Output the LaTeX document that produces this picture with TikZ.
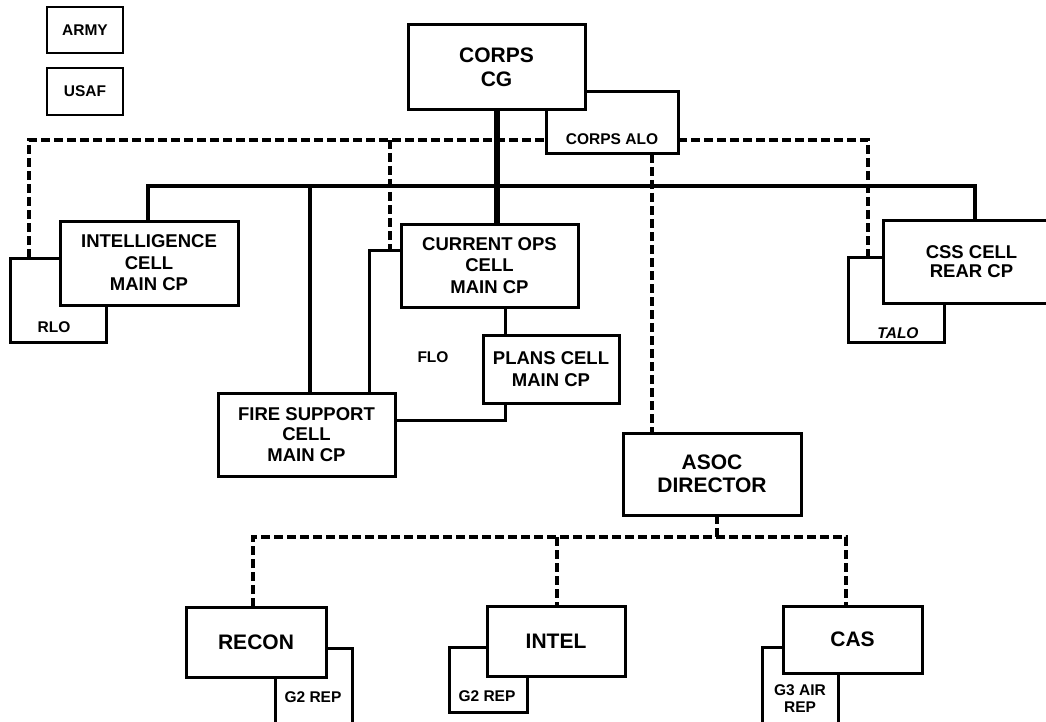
\documentclass[tikz,border=0pt]{standalone}
\usepackage{fontspec}
\setmainfont{Liberation Sans}
\begin{document}
\begin{tikzpicture}[x=1pt,y=-1pt,
  bx/.style={draw, line width=3pt, fill=white, inner sep=0pt, outer sep=0pt, align=center},
  bigf/.style={font=\bfseries\fontsize{21}{24}\selectfont},
  midf/.style={font=\bfseries\fontsize{18.5}{21.5}\selectfont},
  smf/.style={font=\bfseries\fontsize{15.5}{17}\selectfont, inner sep=0pt},
  sline/.style={line width=3.5pt},
  dline/.style={line width=4pt, dash pattern=on 9pt off 4pt}]
\useasboundingbox (0,0) rectangle (1046,722);
\clip (0,0) rectangle (1046,722);

% legend
\node[bx, line width=2.5pt, smf, minimum width=76pt, minimum height=46pt] (army) at (85,30) {ARMY};
\node[bx, line width=2.5pt, smf, minimum width=76pt, minimum height=47pt] (usaf) at (85,91.5) {USAF};

% boxes lying behind others
\node[bx, minimum width=132pt, minimum height=62pt] (alo) at (612,123) {};
\node[smf] (alot) at (612,139) {CORPS ALO};
\node[bx, minimum width=96pt, minimum height=84pt] (rlo) at (58,300) {};
\node[smf] (rlot) at (54,327) {RLO};
\node[bx, minimum width=136pt, minimum height=170pt] (flo) at (437,335) {};
\node[smf] (flot) at (433,357) {FLO};
\node[bx, minimum width=96pt, minimum height=85pt] (talo) at (896,299.5) {};
\node[smf, font=\bfseries\itshape\fontsize{15.5}{17}\selectfont] (talot) at (898,333) {TALO};
\node[bx, minimum width=77pt, minimum height=92pt] (gra) at (313.5,694) {};
\node[smf] (grat) at (313,697) {G2 REP};
\node[bx, minimum width=78pt, minimum height=65pt] (grb) at (488,679.5) {};
\node[smf] (grbt) at (487,696) {G2 REP};
\node[bx, minimum width=76pt, minimum height=93pt] (g3) at (800,693.5) {};
\node[smf, align=center] (g3t) at (800,699) {G3 AIR\\REP};

% coordinates for connectors
\coordinate (bl) at (148,186);
\coordinate (br) at (975,186);
\coordinate (fd) at (310,186);
\coordinate (cgx) at (497,186);
\coordinate (dl) at (29,140);
\coordinate (dm) at (390,140);
\coordinate (dr) at (868,140);
\coordinate (da) at (652,154);
\coordinate (ab) at (717,537);
\coordinate (el) at (253,537);
\coordinate (em) at (557,537);
\coordinate (er) at (846,537);

% front boxes (positions only first, drawn later) -- define via nodes after connectors
% solid connectors
\draw[sline] (148,221) -- (bl) -- (br) -- (975,220);
\draw[sline] (fd) -- (310,393);
\draw[line width=6pt] (497,110) -- (497,224);

% dashed connectors
\draw[dline] (dl |- rlo.north) -- (dl) -- (dl -| alo.west);
\draw[dline] (alo.east |- dr) -- (dr) -- (dr |- talo.north);
\draw[dline] (dm) -- (dm |- flo.north);
\draw[dline] (da) -- (652,433);
\draw[dline] (717,515) -- (ab);
\draw[dline] (el |- 0,607) -- (el) -- (er) -- (er |- 0,606);
\draw[dline] (em) -- (557,606);

% front boxes
\node[bx, bigf, minimum width=177pt, minimum height=85pt] (cg) at (496.5,67.5) {CORPS\\CG};
\node[bx, midf, minimum width=178pt, minimum height=84pt] (intell) at (149,263) {INTELLIGENCE\\CELL\\MAIN CP};
\node[bx, midf, minimum width=177pt, minimum height=83pt] (curops) at (489.5,265.5) {CURRENT OPS\\CELL\\MAIN CP};
\node[bx, midf, font=\bfseries\fontsize{18.5}{22}\selectfont, minimum width=136pt, minimum height=68pt] (plans) at (551,369) {PLANS CELL\\MAIN CP};
\node[bx, midf, font=\bfseries\fontsize{18.5}{20.5}\selectfont, minimum width=177pt, minimum height=83pt] (fire) at (306.5,434.5) {FIRE SUPPORT\\CELL\\MAIN CP};
\node[bx, midf, font=\bfseries\fontsize{18.5}{18.5}\selectfont, minimum width=177pt, minimum height=83pt] (css) at (971.5,261.5) {CSS CELL\\REAR CP};
\node[bx, bigf, font=\bfseries\fontsize{21}{23}\selectfont, minimum width=178pt, minimum height=82pt] (asoc) at (712,474) {ASOC\\DIRECTOR};
\node[bx, bigf, minimum width=140pt, minimum height=70pt] (recon) at (256,642) {RECON};
\node[bx, bigf, minimum width=138pt, minimum height=70pt] (intel) at (556,641) {INTEL};
\node[bx, bigf, minimum width=139pt, minimum height=67pt] (cas) at (852.5,639.5) {CAS};
\end{tikzpicture}
\end{document}
